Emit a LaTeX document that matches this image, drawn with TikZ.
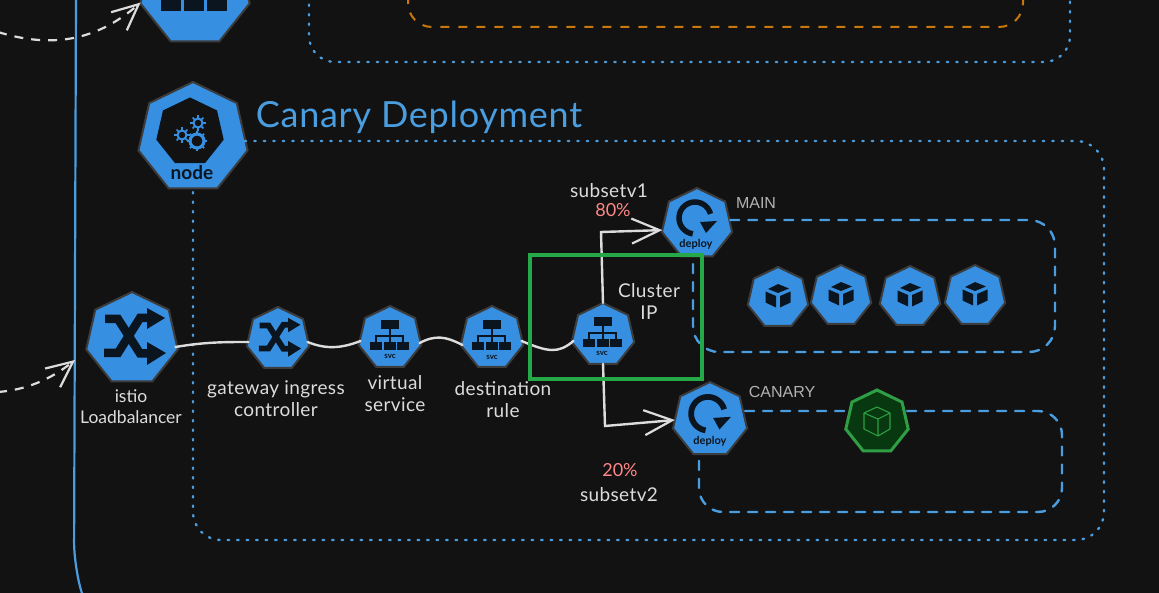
\documentclass[tikz,border=0pt]{standalone}
\usepackage{fontspec}
\setmainfont{Lato}
\newfontfamily\plainfont{Liberation Sans}
\usetikzlibrary{shapes.geometric,arrows.meta}

\definecolor{sfondo}{HTML}{121212}
\definecolor{azzurro}{HTML}{368FE0}
\definecolor{linea}{HTML}{4A9EE0}
\definecolor{bordo}{HTML}{3C3C3C}
\definecolor{gesso}{HTML}{DCDCDC}
\definecolor{scuro}{HTML}{0B1520}
\definecolor{rosa}{HTML}{FF8787}
\definecolor{arancio}{HTML}{C9780F}
\definecolor{verde}{HTML}{2F9E44}
\definecolor{verdescuro}{HTML}{07380F}
\definecolor{cornice}{HTML}{25A848}

\tikzset{
    hepta/.style={regular polygon,regular polygon sides=7,inner sep=0pt,outer sep=0pt,
        fill=azzurro,draw=bordo,line width=2pt,minimum size=2*#1 pt},
    greenhepta/.style={hepta=#1,fill=verdescuro,draw=verde,line width=3pt},
    scritta/.style={text=gesso,align=center,inner sep=0pt,
        font=\fontsize{19}{22}\selectfont\addfontfeature{LetterSpace=2}},
    grigio/.style={text=gray!60!white,font=\plainfont\fontsize{16}{18}\selectfont,inner sep=0pt},
    perc/.style={text=rosa,font=\fontsize{18}{20}\selectfont,inner sep=0pt},
    tag/.style={text=scuro,inner sep=0pt,font=\bfseries\fontsize{#1}{#1}\selectfont},
    flusso/.style={draw=gesso,line width=2.4pt,line cap=round},
    freccia/.style={flusso,-{Straight Barb[length=28pt,width=25pt,line width=2.2pt]}},
    ingresso/.style={draw=gesso,line width=2.2pt,dash pattern=on 9pt off 8pt,
        -{Straight Barb[length=26pt,width=24pt,line width=2.2pt]}},
    puntini/.style={draw=linea,line width=2.4pt,line cap=round,dash pattern=on 1.5pt off 8pt},
    tratti/.style={draw=linea,line width=2.4pt,line cap=round,dash pattern=on 9pt off 9pt},
    pics/svcicon/.style={code={
        \begin{scope}[scale=#1]
            \draw[scuro,line width=1.2pt] (0,-10) -- (0,-2) (-14,4) -- (-14,-2) -- (13,-2) -- (13,4) (0,-2) -- (0,4);
            \fill[scuro] (-9,-18) rectangle (9,-9);
            \fill[scuro] (-20,4) rectangle (-8,12);
            \fill[scuro] (-6.5,4) rectangle (5.5,12);
            \fill[scuro] (7,4) rectangle (19,12);
        \end{scope}
    }},
    pics/shuffleicon/.style={code={
        \begin{scope}[scale=#1]
            \draw[scuro,line width=#1*8.5pt] (-28,14) -- (-14,14) -- (8,-21) -- (19,-21);
            \draw[scuro,line width=#1*8.5pt] (-27,-20) -- (-14,-20) -- (8,14.5) -- (19,14.5);
            \fill[scuro] (15,-31) -- (33,-21) -- (15,-10) -- cycle;
            \fill[scuro] (15,3) -- (34,14) -- (15,26) -- cycle;
        \end{scope}
    }},
    pics/deployicon/.style={code={
        \begin{scope}[scale=#1]
            \draw[scuro,line width=#1*5.5pt] plot[smooth,domain=262:15,samples=24] ({-2+16*cos(\x)},{-6-16*sin(\x)});
            \fill[scuro] (3,-2) -- (20,-3) -- (9,9) -- cycle;
        \end{scope}
    }},
    pics/cubeicon/.style={code={
        \fill[scuro] (-10,-9) -- (0,-14) -- (11,-9.5) -- (0,-5) -- cycle;
        \fill[scuro] (-12.5,-6.5) -- (-2,-2) -- (-2,9.5) -- (-12.5,4.5) -- cycle;
        \fill[scuro] (2,-2) -- (12.5,-6.5) -- (12.5,4.5) -- (2,9.5) -- cycle;
    }},
    pics/greencube/.style={code={
        \draw[verde,line width=1.1pt,line join=round] (-13,-9) -- (0,-15) -- (13,-9) -- (13,7) -- (1,14) -- (-13,7) -- cycle
            (-13,-9) -- (1,-3) -- (13,-9) (1,-3) -- (1,14);
    }},
    pics/gearicon/.style={code={
        \draw[azzurro,line width=#1*0.45pt] (0,0) circle (#1);
        \foreach \a in {0,45,...,315}
            \draw[azzurro,line width=1.6pt] (\a:#1) -- (\a:#1+3.2);
    }},
}

\begin{document}
\begin{tikzpicture}[x=1pt,y=-1pt]
        \clip (0,0) rectangle (1159,593);
        \fill[sfondo] (0,0) rectangle (1159,593);

        %contorni
        \draw[linea,line width=2.2pt,rounded corners=25pt] (76,-5) -- (74,567) -- (84,600);
        \draw[puntini,rounded corners=26pt] (309,-5) -- (309,62) -- (1070,62) -- (1070,-5);
        \draw[arancio,line width=2pt,dash pattern=on 9pt off 9pt,rounded corners=24pt] (408,-5) -- (408,27) -- (1023,27) -- (1023,-5);

        %nodi principali
        \node[hepta=56] (top) at (195,-9) {};
        \node[hepta=56] (node) at (193,138) {};
        \node[hepta=47] (istio) at (132,339) {};
        \node[hepta=32] (gateway) at (278,339) {};
        \node[hepta=32] (virtual) at (390,338) {};
        \node[hepta=32] (destination) at (492,338) {};
        \node[hepta=32] (cluster) at (603,335) {};
        \node[hepta=36] (main) at (697,224) {};
        \node[hepta=38] (canary) at (710,420) {};

        %riquadri tratteggiati
        \draw[puntini,rounded corners=28pt] (node.east |- 0,141) -- (1104,141) -- (1104,540) -- (193,540) -- (node.south);
        \draw[tratti,rounded corners=26pt] (main.east |- 0,220) -- (1055,220) -- (1055,352) -- (693,352) -- (main.south -| 693,0);
        \draw[tratti,rounded corners=24pt] (canary.east |- 0,411) -- (1062,411) -- (1062,512) -- (699,512) -- (canary.south -| 699,0);

        %pod
        \node[hepta=31] (pod1) at (778,298) {};
        \node[hepta=31] (pod2) at (841,296) {};
        \node[hepta=31] (pod3) at (910,297) {};
        \node[hepta=31] (pod4) at (975,296) {};
        \node[greenhepta=32] (pod5) at (877,422) {};

        %icone
        \pic at (top) {svcicon=1.7};
        \node[regular polygon,regular polygon sides=7,fill=sfondo,draw=scuro,line width=1pt,minimum size=68pt,inner sep=0pt] (hole) at (190,132) {};
        \pic at (197,141) {gearicon=7};
        \pic at (198,123) {gearicon=4.5};
        \pic at (182,135) {gearicon=4.5};
        \draw[azzurro,line width=1.6pt] (198,128) -- (197,134);
        \node[tag=19] (nodetag) at (192,173) {node};
        \pic at (istio) {shuffleicon=1};
        \pic at (gateway) {shuffleicon=.68};
        \pic at (virtual) {svcicon=1};
        \pic at (destination) {svcicon=1};
        \pic at (cluster) {svcicon=1};
        \node[tag=8] (tag1) at (390,356) {svc};
        \node[tag=8] (tag2) at (492,357) {svc};
        \node[tag=8] (tag3) at (602,353) {svc};
        \pic at (main) {deployicon=1};
        \pic at (canary) {deployicon=1.05};
        \node[tag=11] (tag4) at (696,244) {deploy};
        \node[tag=11] (tag5) at (710,441) {deploy};
        \pic at (pod1) {cubeicon};
        \pic at (pod2) {cubeicon};
        \pic at (pod3) {cubeicon};
        \pic at (pod4) {cubeicon};
        \pic at (pod5) {greencube};

        %collegamenti
        \draw[flusso] (istio.east |- 0,347) .. controls (205,342) and (225,342) .. (gateway.west |- 0,342);
        \draw[flusso] (gateway.east |- 0,342) .. controls (325,349) and (340,349) .. (virtual.west |- 0,341);
        \draw[flusso] (virtual.east |- 0,343) .. controls (435,335) and (445,336) .. (destination.west |- 0,345);
        \draw[flusso] (destination.east |- 0,341) .. controls (548,352) and (558,354) .. (cluster.west |- 0,341);
        \draw[freccia] (cluster.north) -- (601,232) -- (main.190);
        \draw[freccia] (cluster.south) -- (605,426) -- (canary.west);

        %frecce in ingresso
        \coordinate (inA) at (-2,32);
        \coordinate (inB) at (-2,392);
        \coordinate (inBend) at (75,360);
        \draw[ingresso] (inA) .. controls (50,48) and (95,42) .. (top.192);
        \draw[ingresso] (inB) .. controls (25,390) and (50,380) .. (inBend);

        %riquadro verde
        \node[draw=cornice,line width=4pt,minimum width=172pt,minimum height=124pt,inner sep=0pt] (box) at (615.5,317.5) {};

        %testi
        \node[text=linea,inner sep=0pt,font=\fontsize{36}{38}\selectfont\addfontfeature{LetterSpace=2}] (title) at (419,117) {Canary Deployment};
        \node[scritta,font=\fontsize{17.5}{21}\selectfont] (t1) at (131,406.5) {istio\\Loadbalancer};
        \node[scritta] (t2) at (276,399) {gateway ingress\\controller};
        \node[scritta] (t3) at (395,394) {virtual\\service};
        \node[scritta] (t4) at (503,400) {destination\\rule};
        \node[scritta] (t5) at (649,302) {Cluster\\IP};
        \node[scritta] (t6) at (609,191) {subsetv1};
        \node[perc] (t7) at (613,210) {80\%};
        \node[perc] (t8) at (620,470) {20\%};
        \node[scritta] (t9) at (619,495) {subsetv2};
        \node[grigio] (t10) at (756,203) {MAIN};
        \node[grigio] (t11) at (782,392) {CANARY};
    \end{tikzpicture}
\end{document}
